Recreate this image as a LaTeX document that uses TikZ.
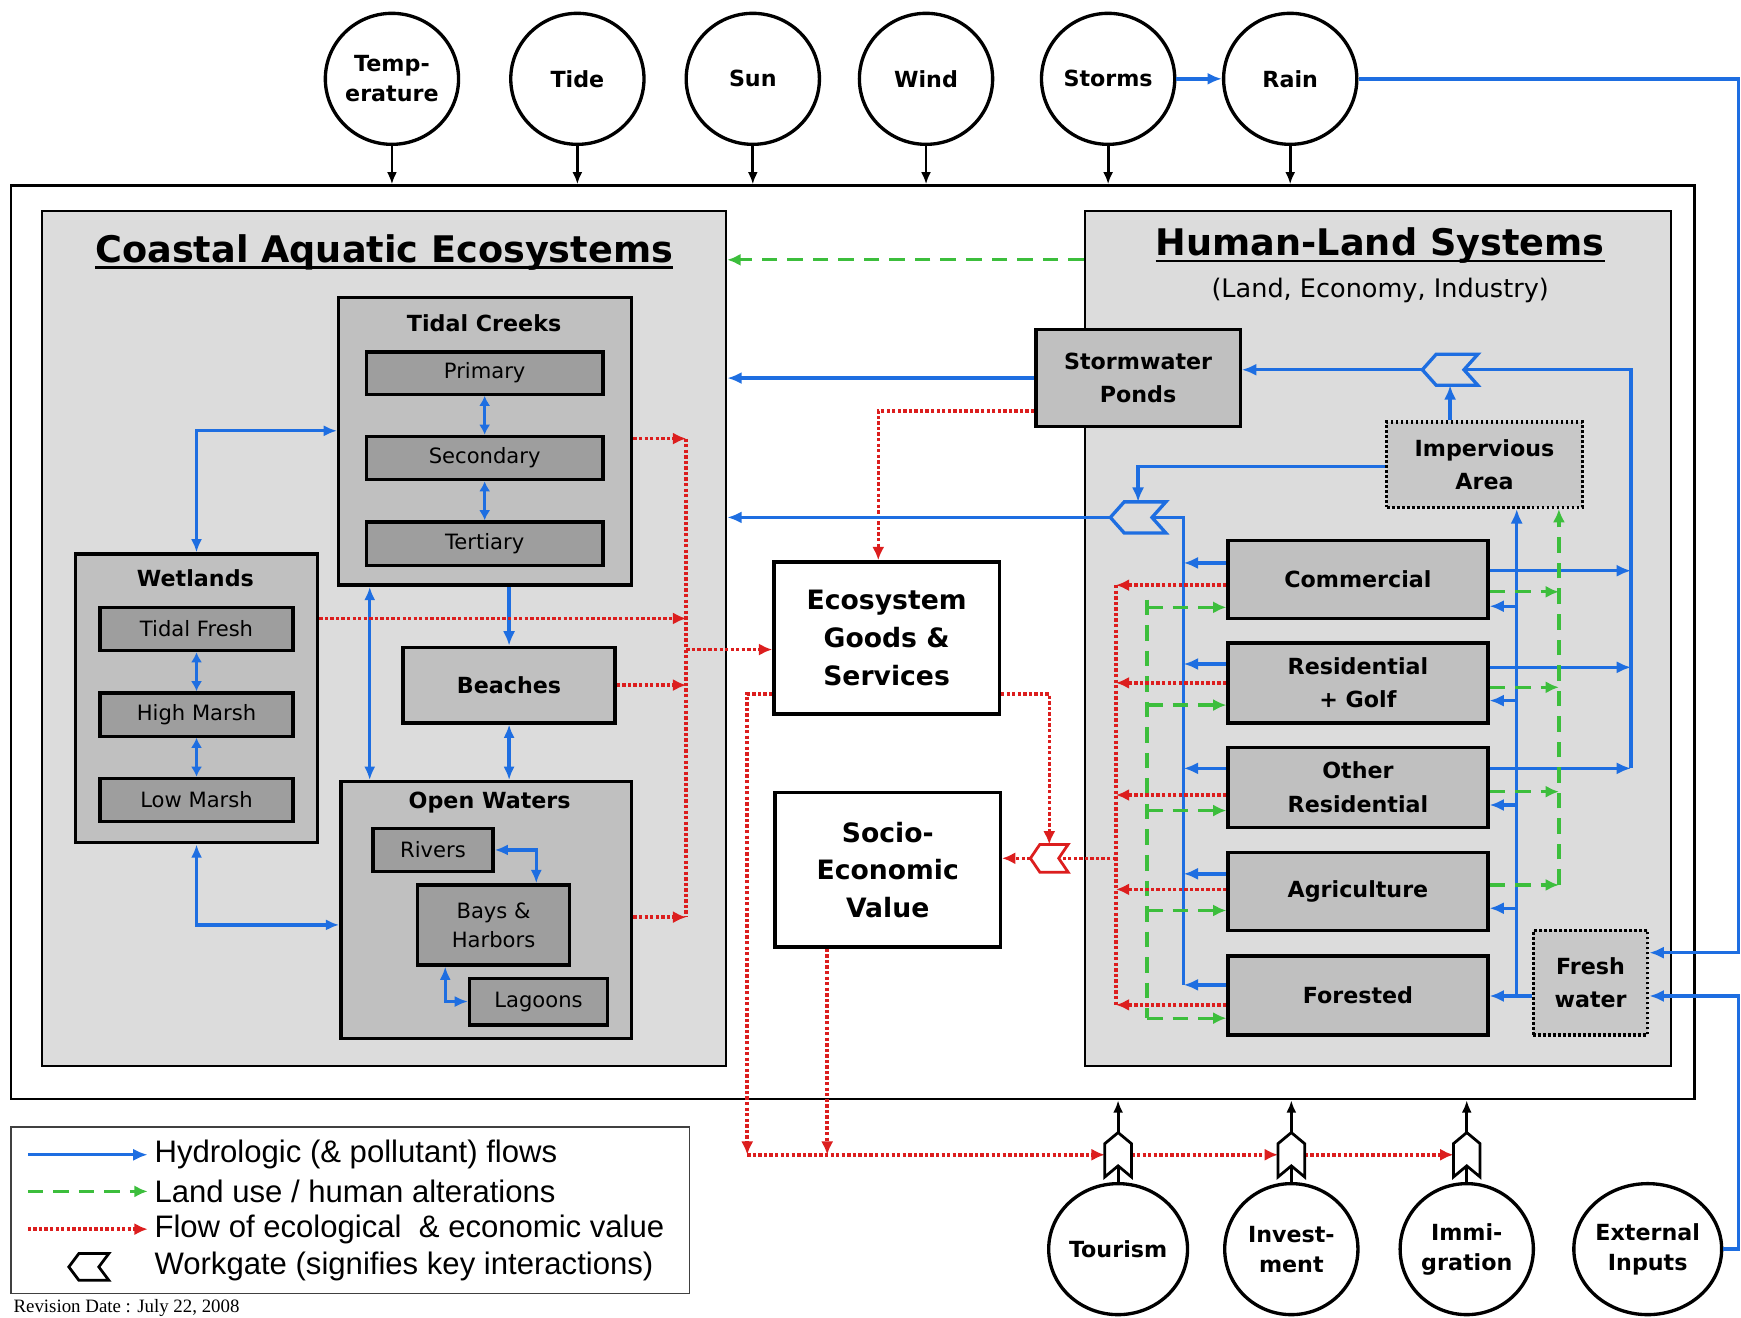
\documentclass[tikz,border=0pt]{standalone}
\usepackage{fontspec}
\setmainfont{DejaVu Sans}
\newfontfamily\legfont{Liberation Sans}
\newfontfamily\revfont{Liberation Serif}
\usetikzlibrary{shapes.geometric,arrows.meta,calc}
\definecolor{hblue}{RGB}{30,110,225}
\definecolor{hgreen}{RGB}{60,190,60}
\definecolor{hred}{RGB}{220,30,30}
\definecolor{cLight}{RGB}{220,220,220}
\definecolor{cMid}{RGB}{192,192,192}
\definecolor{cDark}{RGB}{158,158,158}
\definecolor{cDot}{RGB}{200,200,200}
\newcommand\fsz[2]{\fontsize{#1}{#2}\selectfont}
\newcommand\wgh[4]{\draw[#1] ($(#2)+(-#3,0)$) -- ($(#2)+(-#3/2,-#4)$) -- ($(#2)+(#3,-#4)$) -- ($(#2)+(#3/2,0)$) -- ($(#2)+(#3,#4)$) -- ($(#2)+(-#3/2,#4)$) -- cycle;}
\newcommand\wgv[4]{\draw[#1] ($(#2)+(0,-#4)$) -- ($(#2)+(#3,-#4/2)$) -- ($(#2)+(#3,#4)$) -- ($(#2)+(0,#4/2)$) -- ($(#2)+(-#3,#4)$) -- ($(#2)+(-#3,-#4/2)$) -- cycle;}
\begin{document}
\begin{tikzpicture}[x=1pt,y=-1pt,
  every node/.style={inner sep=0pt, align=center},
  bigbox/.style={draw, line width=2pt, fill=cLight},
  grpbox/.style={draw, line width=3pt, fill=cMid},
  subbox/.style={draw, line width=3pt, fill=cDark, font=\fsz{19}{23}},
  lubox/.style={draw, line width=3pt, fill=cMid, font=\fsz{20}{30}\bfseries, minimum width=234pt},
  dotbox/.style={draw, line width=3pt, dash pattern=on 2.5pt off 2pt, fill=cDot, font=\fsz{20}{30}\bfseries},
  whbox/.style={draw, line width=3pt, fill=white, font=\fsz{24}{34}\bfseries},
  ell/.style={ellipse, draw, line width=3pt, fill=white, minimum width=120pt, minimum height=118pt, font=\fsz{20}{27}\bfseries},
  lbl/.style={font=\fsz{20}{24}\bfseries},
  bl/.style={hblue, line width=3pt},
  bla/.style={bl, -{Latex[length=13pt,width=11pt]}},
  blaa/.style={bl, {Latex[length=12pt,width=10pt]}-{Latex[length=12pt,width=10pt]}},
  bls/.style={bl, {Latex[length=9pt,width=10pt]}-{Latex[length=9pt,width=10pt]}},
  gr/.style={hgreen, line width=3pt, dash pattern=on 14pt off 9pt},
  gra/.style={gr, -{Latex[length=12pt,width=11pt]}},
  rd/.style={hred, line width=3.2pt, dash pattern=on 3pt off 2pt},
  rda/.style={rd, -{Latex[length=12pt,width=11pt]}},
  blk/.style={black, line width=2.5pt, -{Latex[length=11pt,width=9pt]}}]
\useasboundingbox (0,0) rectangle (1568,1187);

% ---------- frames ----------
\node[draw, line width=2pt, minimum width=1516pt, minimum height=823pt] (outer) at (768,578.5) {};
\node[bigbox, minimum width=616pt, minimum height=770pt] (cae) at (346,575) {};
\node[bigbox, minimum width=528pt, minimum height=770pt] (hls) at (1241,575) {};

\node[anchor=base, font=\fsz{33}{40}\bfseries] (caet) at (346,236) {Coastal Aquatic Ecosystems};
\draw[line width=2.5pt] ([yshift=-5pt]caet.base west) -- ([yshift=-5pt]caet.base east);
\node[anchor=base, font=\fsz{33}{40}\bfseries] (hlst) at (1243,230) {Human-Land Systems};
\draw[line width=2.5pt] ([yshift=-5pt]hlst.base west) -- ([yshift=-5pt]hlst.base east);
\node[anchor=base, font=\fsz{23}{28}] (hlss) at (1243,268) {(Land, Economy, Industry)};

% ---------- coastal boxes ----------
\node[grpbox, minimum width=264pt, minimum height=259pt] (tc) at (437,397.5) {};
\node[lbl] (tcl) at (436,291) {Tidal Creeks};
\node[subbox, minimum width=213pt, minimum height=38pt] (pri) at (436.5,336) {Primary};
\node[subbox, minimum width=213pt, minimum height=39pt] (sec) at (436.5,412.5) {Secondary};
\node[subbox, minimum width=213pt, minimum height=39pt] (ter) at (436.5,489.5) {Tertiary};

\node[grpbox, minimum width=218pt, minimum height=260pt] (wet) at (177,629) {};
\node[lbl] (wetl) at (176,521) {Wetlands};
\node[subbox, minimum width=174pt, minimum height=39pt] (tfr) at (177,566.5) {Tidal Fresh};
\node[subbox, minimum width=174pt, minimum height=39pt] (hma) at (177,643.5) {High Marsh};
\node[subbox, minimum width=174pt, minimum height=39pt] (lma) at (177,720.5) {Low Marsh};

\node[grpbox, lbl, minimum width=191pt, minimum height=68pt] (bea) at (458.5,617) {Beaches};

\node[grpbox, minimum width=262pt, minimum height=231pt] (ow) at (438,819.5) {};
\node[lbl] (owl) at (441,723) {Open Waters};
\node[subbox, minimum width=108pt, minimum height=39pt] (riv) at (390,765.5) {Rivers};
\node[subbox, minimum width=137pt, minimum height=72pt, font=\fsz{19}{26}] (bay) at (444.5,833) {Bays \&\\Harbors};
\node[subbox, minimum width=124pt, minimum height=42pt] (lag) at (485,902) {Lagoons};

% ---------- middle ----------
\node[whbox, minimum width=203pt, minimum height=137pt] (egs) at (798.5,574.5) {Ecosystem\\Goods \&\\Services};
\node[whbox, minimum width=203pt, minimum height=139pt] (sev) at (799.5,783.5) {Socio-\\Economic\\Value};

% ---------- human boxes ----------
\node[grpbox, lbl, minimum width=184pt, minimum height=87pt, font=\fsz{20}{30}\bfseries] (swp) at (1025,340.5) {Stormwater\\Ponds};
\node[dotbox, minimum width=176pt, minimum height=77pt] (imp) at (1337,418.5) {Impervious\\Area};
\node[lubox, minimum height=70pt] (com) at (1223,522) {Commercial};
\node[lubox, minimum height=72pt] (res) at (1223,615) {Residential\\+ Golf};
\node[lubox, minimum height=72pt] (oth) at (1223,709) {Other\\Residential};
\node[lubox, minimum height=70pt] (agr) at (1223,803) {Agriculture};
\node[lubox, minimum height=71pt] (fors) at (1223,896.5) {Forested};
\node[dotbox, minimum width=103pt, minimum height=94pt] (frw) at (1432.5,885) {Fresh\\water};

% ---------- ellipses ----------
\node[ell] (temp) at (353,71) {Temp-\\erature};
\node[ell] (tide) at (520,71) {Tide};
\node[ell] (sun) at (678,71) {Sun};
\node[ell] (wind) at (834,71) {Wind};
\node[ell] (storms) at (998,71) {Storms};
\node[ell] (rain) at (1162,71) {Rain};
\node[ell] (tour) at (1007,1125) {Tourism};
\node[ell] (inv) at (1163,1125) {Invest-\\ment};
\node[ell] (imm) at (1321,1125) {Immi-\\gration};
\node[ell] (ext) at (1484,1125) {External\\Inputs};

% ---------- helper coordinates ----------
\coordinate (RC) at (618,0);
\coordinate (RV) at (1469,0);
\coordinate (LV) at (1066,0);
\coordinate (FV) at (1366,0);
\coordinate (GR) at (1404,0);
\coordinate (GL) at (1033,0);
\coordinate (RL) at (1005,0);
\coordinate (XR) at (1566,0);
\coordinate (wg1) at (1306,333);
\coordinate (wg2) at (1025,466);
\coordinate (wgr) at (945,773);
\coordinate (wgT) at (1007,1040);
\coordinate (wgI) at (1163,1040);
\coordinate (wgM) at (1321,1040);
\coordinate (rb) at (673,1040);

% ---------- top inputs ----------
\foreach \e in {temp,tide,sun,wind,storms,rain}
  \draw[blk] (\e.south) -- (\e.south |- outer.north);
\draw[bla] (storms.east) -- (rain.west);
\draw[bla] (rain.east) -- (rain.east -| XR) -- (XR |- 0,858) -- (frw.east |- 0,858);
\draw[bla] (ext.east) -- (ext.east -| XR) -- (XR |- 0,897) -- (frw.east |- 0,897);

% ---------- coastal blue ----------
\draw[blaa] (wet.north) |- (tc.west |- 0,388);
\draw[blaa] (tc.south -| 333,0) -- (ow.north -| 333,0);
\draw[bla] (tc.south -| bea.north) -- (bea.north);
\draw[blaa] (bea.south) -- (ow.north -| bea.south);
\draw[blaa] (wet.south) |- (ow.west |- 0,833);
\draw[blaa] (riv.east) -| (bay.north -| 483,0);
\draw[blaa] (bay.south -| 401,0) |- (lag.west);
\draw[bls] (pri.south) -- (sec.north);
\draw[bls] (sec.south) -- (ter.north);
\draw[bls] (tfr.south) -- (hma.north);
\draw[bls] (hma.south) -- (lma.north);

% ---------- coastal red ----------
\draw[rd] (RC |- 0,395) -- (RC |- 0,826);
\draw[rda] (tc.east |- 0,395) -- (RC |- 0,395);
\draw[rda] (wet.east |- 0,557) -- (RC |- 0,557);
\draw[rda] (bea.east) -- (RC |- bea.east);
\draw[rda] (ow.east |- 0,826) -- (RC |- 0,826);
\draw[rda] (RC |- 0,585) -- (egs.west |- 0,585);

% ---------- links between systems ----------
\draw[gra] (hls.west |- 0,234) -- (cae.east |- 0,234);
\draw[bla] (swp.west) -- (cae.east |- swp.west);
\draw[rda] (swp.west |- 0,370) -| (egs.north -| 791,0);

% ---------- human blue ----------
\draw[bl] (RV |- 0,692) -- (RV |- wg1) -- ($(wg1)+(12.5,0)$);
\draw[bla] ($(wg1)+(-25,0)$) -- (swp.east |- wg1);
\draw[bla] (imp.north -| wg1) -- ($(wg1)+(0,14)$);
\draw[bla] (com.east |- 0,514) -- (RV |- 0,514);
\draw[bla] (res.east |- 0,601) -- (RV |- 0,601);
\draw[bla] (oth.east |- 0,692) -- (RV |- 0,692);
\draw[bla] (imp.west |- 0,420) -| ($(wg2)+(0,-14)$);
\draw[bl] (LV |- 0,887) -- (LV |- wg2) -- ($(wg2)+(12.5,0)$);
\draw[bla] ($(wg2)+(-25,0)$) -- (cae.east |- wg2);
\draw[bla] (com.west |- 0,507) -- (LV |- 0,507);
\draw[bla] (res.west |- 0,598) -- (LV |- 0,598);
\draw[bla] (oth.west |- 0,692) -- (LV |- 0,692);
\draw[bla] (agr.west |- 0,787) -- (LV |- 0,787);
\draw[bla] (fors.west |- 0,887) -- (LV |- 0,887);
\draw[bl] (frw.west |- 0,897) -- (FV |- 0,897);
\draw[bla] (FV |- 0,897) -- (FV |- imp.south);
\draw[bla] (FV |- 0,897) -- (fors.east |- 0,897);
\draw[bla] (FV |- 0,546) -- (com.east |- 0,546);
\draw[bla] (FV |- 0,631) -- (res.east |- 0,631);
\draw[bla] (FV |- 0,725) -- (oth.east |- 0,725);
\draw[bla] (FV |- 0,818) -- (agr.east |- 0,818);

% ---------- human green ----------
\draw[gra] (com.east |- 0,533) -- (GR |- 0,533);
\draw[gra] (res.east |- 0,619) -- (GR |- 0,619);
\draw[gra] (oth.east |- 0,713) -- (GR |- 0,713);
\draw[gra] (agr.east |- 0,797) -- (GR |- 0,797);
\draw[gra] (GR |- 0,797) -- (GR |- imp.south);
\draw[gr] (GL |- 0,540) -- (GL |- 0,917);
\draw[gra] (GL |- 0,547) -- (com.west |- 0,547);
\draw[gra] (GL |- 0,635) -- (res.west |- 0,635);
\draw[gra] (GL |- 0,730) -- (oth.west |- 0,730);
\draw[gra] (GL |- 0,820) -- (agr.west |- 0,820);
\draw[gra] (GL |- 0,917) -- (fors.west |- 0,917);

% ---------- human red ----------
\draw[rd] (RL |- 0,527) -- (RL |- 0,905);
\draw[rda] (com.west |- 0,527) -- (RL |- 0,527);
\draw[rda] (res.west |- 0,615) -- (RL |- 0,615);
\draw[rda] (oth.west |- 0,716) -- (RL |- 0,716);
\draw[rda] (agr.west |- 0,801) -- (RL |- 0,801);
\draw[rda] (fors.west |- 0,905) -- (RL |- 0,905);
\draw[rd] (RL |- wgr) -- ($(wgr)+(8.5,0)$);
\draw[rda] ($(wgr)+(-17,0)$) -- (sev.east |- wgr);
\draw[rda] (egs.east |- 0,625) -| ($(wgr)+(0,-12.5)$);
\draw[rda] (egs.west |- 0,625) -| (rb);
\draw[rda] (rb) -- ($(wgT)+(-12,0)$);
\draw[rda] (sev.south -| 745,0) -- (rb -| 745,0);
\draw[rda] ($(wgT)+(12,0)$) -- ($(wgI)+(-12,0)$);
\draw[rda] ($(wgI)+(12,0)$) -- ($(wgM)+(-12,0)$);

% ---------- bottom inputs ----------
\draw[line width=2.5pt] (tour.north) -- ($(wgT)+(0,10)$);
\draw[blk] ($(wgT)+(0,-20)$) -- (wgT |- outer.south);
\draw[line width=2.5pt] (inv.north) -- ($(wgI)+(0,10)$);
\draw[blk] ($(wgI)+(0,-20)$) -- (wgI |- outer.south);
\draw[line width=2.5pt] (imm.north) -- ($(wgM)+(0,10)$);
\draw[blk] ($(wgM)+(0,-20)$) -- (wgM |- outer.south);

% ---------- workgates ----------
\wgh{hblue, line width=3pt, fill=cLight}{wg1}{25}{14}
\wgh{hblue, line width=3pt, fill=cLight}{wg2}{25}{14}
\wgh{hred, line width=2.5pt, fill=white}{wgr}{17}{12.5}
\wgv{black, line width=2.5pt, fill=white}{wgT}{12}{20}
\wgv{black, line width=2.5pt, fill=white}{wgI}{12}{20}
\wgv{black, line width=2.5pt, fill=white}{wgM}{12}{20}

% ---------- legend ----------
\node[draw=black!75, line width=1.5pt, minimum width=611pt, minimum height=150pt] (leg) at (315.5,1090) {};
\coordinate (wgL) at (80,1141);
\draw[bla] (25,1040) -- (133,1040);
\draw[gra] (25,1073) -- (133,1073);
\draw[rda] (25,1107) -- (133,1107);
\wgh{black, line width=2.5pt, fill=white}{wgL}{18}{12}
\node[anchor=west, font=\legfont\fsz{28}{32}] (l1) at (139,1040) {Hydrologic (\& pollutant) flows};
\node[anchor=west, font=\legfont\fsz{28}{32}] (l2) at (139,1073) {Land use / human alterations};
\node[anchor=west, font=\legfont\fsz{28}{32}] (l3) at (139,1107) {Flow of ecological \ \& economic value};
\node[anchor=west, font=\legfont\fsz{28}{32}] (l4) at (139,1141) {Workgate (signifies key interactions)};
\node[anchor=base west, font=\revfont\fsz{17}{20}] (rev) at (12,1182) {Revision Date : July 22, 2008};
\end{tikzpicture}
\end{document}
